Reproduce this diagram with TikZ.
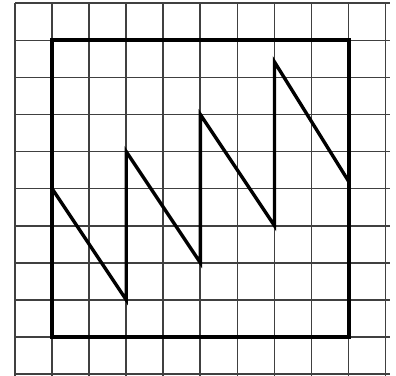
\documentclass[tikz,border=0pt]{standalone}
\begin{document}
\begin{tikzpicture}[x=1cm, y=1cm,
  gridline/.style={line width=1.3pt, black!75},
  bordo/.style={line width=3pt, line cap=square},
  zigzag/.style={line width=2.6pt, line join=miter}]

\useasboundingbox (-0.405,-0.055) rectangle (10.28,10.09);

% Griglia
\foreach \i in {0,...,10} {
  \draw[gridline] (\i,-0.1) -- (\i,10);
  \draw[gridline] (0,\i) -- (10.12,\i);
}

% Vertici del quadrato
\coordinate (sw) at (1,1);
\coordinate (ne) at (9,9);

% Vertici della spezzata
\coordinate (a) at (1,5);
\coordinate (b) at (3,2);
\coordinate (c) at (3,6);
\coordinate (d) at (5,3);
\coordinate (e) at (5,7);
\coordinate (f) at (7,4);
\coordinate (g) at (7,8.42);
\coordinate (h) at (9,5.2);

% Quadrato
\draw[bordo] (sw) rectangle (ne);

% Spezzata
\draw[zigzag] (a) -- (b) -- (c) -- (d) -- (e) -- (f) -- (g) -- (h);

\end{tikzpicture}
\end{document}
